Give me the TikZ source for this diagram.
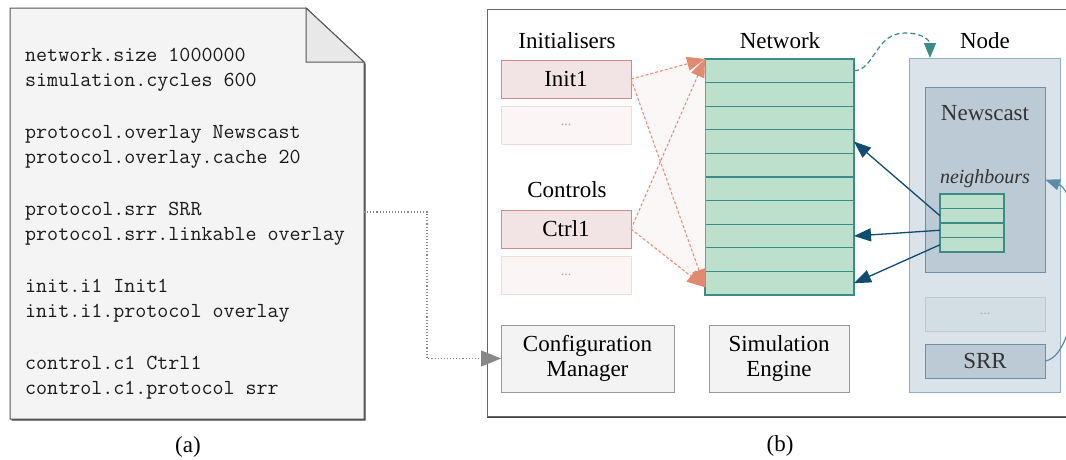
\documentclass[tikz,border=0pt]{standalone}
\usepackage{fontspec}
\setmainfont{Liberation Serif}
\usetikzlibrary{arrows.meta,calc}
\definecolor{docfill}{HTML}{F4F4F4}
\definecolor{docline}{HTML}{555555}
\definecolor{foldfill}{HTML}{E8E8E8}
\definecolor{initfill}{HTML}{F2E4E4}
\definecolor{initline}{HTML}{D08A8A}
\definecolor{dotsfill}{HTML}{FBF5F5}
\definecolor{dotsline}{HTML}{F2DADA}
\definecolor{orangeln}{HTML}{E8907A}
\definecolor{orangetip}{HTML}{E08A72}
\definecolor{tintfill}{HTML}{FCF7F7}
\definecolor{rowfill}{HTML}{BDE0CD}
\definecolor{rowline}{HTML}{3D8B87}
\definecolor{nodefill}{HTML}{DAE3E9}
\definecolor{nodeline}{HTML}{8FB0C4}
\definecolor{newsfill}{HTML}{BCCAD5}
\definecolor{newsline}{HTML}{6D8FAB}
\definecolor{ndotsfill}{HTML}{D3DDE4}
\definecolor{ndotsline}{HTML}{BCC9D3}
\definecolor{bluearr}{HTML}{0F4C70}
\definecolor{srrarr}{HTML}{5B8BA5}
\definecolor{cfgfill}{HTML}{F3F3F3}
\definecolor{cfgline}{HTML}{999999}
\definecolor{conngray}{HTML}{888888}
\definecolor{codetext}{HTML}{1A1A1A}
\tikzset{
  lbl/.style={font=\fontsize{23}{25}\selectfont, inner sep=0pt, anchor=base},
  codeln/.style={font=\ttfamily\fontsize{21.4}{24}\selectfont, text=codetext, inner sep=0pt, anchor=base west},
  nwbox/.style={rectangle, inner sep=0pt, outer sep=0pt, anchor=north west},
  initbox/.style={nwbox, draw=initline, fill=initfill, line width=1pt, font=\fontsize{23}{25}\selectfont},
  dotsbox/.style={nwbox, draw=dotsline, fill=dotsfill, line width=1pt, font=\fontsize{14}{16}\selectfont, text=gray!70},
  netrow/.style={nwbox, draw=rowline, fill=rowfill, line width=1.2pt},
  cfgbox/.style={nwbox, draw=cfgline, fill=cfgfill, line width=1pt, align=center, font=\fontsize{23}{25}\selectfont},
  orarrow/.style={orangeln, line width=1.1pt, dash pattern=on 3pt off 2pt, -{Triangle[length=18pt,width=14pt,fill=orangetip,color=orangetip]}},
  bluearrow/.style={bluearr, line width=1.3pt, -{Triangle[length=17pt,width=13pt]}},
}
\begin{document}
\begin{tikzpicture}[x=1pt,y=-1pt]
\clip (0,0) rectangle (1066,459);
\fill[white] (0,0) rectangle (1066,459);

% ---------- (a) document ----------
\fill[docline!80!black] ($(10,8)+(1.5,1.5)$) -- ($(306,8)+(1.5,1.5)$) -- ($(364,62)+(1.5,1.5)$) -- ($(364,419)+(1.5,1.5)$) -- ($(10,419)+(1.5,1.5)$) -- cycle;
\draw[docline, fill=docfill, line width=1pt] (10,8) -- (306,8) -- (364,62) -- (364,419) -- (10,419) -- cycle;
\draw[docline, fill=foldfill, line width=1pt] (306,8) -- (306,62) -- (364,62) -- cycle;
\coordinate (docR) at (364,212);

\node[codeln] (c1) at (25,61) {network.size 1000000};
\node[codeln] (c2) at (25,86) {simulation.cycles 600};
\node[codeln] (c3) at (25,138) {protocol.overlay Newscast};
\node[codeln] (c4) at (25,163) {protocol.overlay.cache 20};
\node[codeln] (c5) at (25,215) {protocol.srr SRR};
\node[codeln] (c6) at (25,240) {protocol.srr.linkable overlay};
\node[codeln] (c7) at (25,292) {init.i1 Init1};
\node[codeln] (c8) at (25,317) {init.i1.protocol overlay};
\node[codeln] (c9) at (25,369) {control.c1 Ctrl1};
\node[codeln] (c10) at (25,394) {control.c1.protocol srr};

\node[lbl] (capa) at (188,452) {(a)};

% ---------- (b) frame ----------
\draw[black!75, line width=2.5pt] (487,417) -- (1075,417);
\draw[black!60, line width=1pt, fill=white] (487,9) rectangle (1075,416);
\node[lbl] (capb) at (780,451) {(b)};

% labels
\node[lbl] (linit) at (567,48) {Initialisers};
\node[lbl] (lnet) at (780,48) {Network};
\node[lbl] (lnode) at (985,48) {Node};
\node[lbl] (lctrl) at (567,197) {Controls};

% initialisers / controls
\node[initbox, minimum width=130pt, minimum height=38pt] (init1) at (501,60) {Init1};
\node[dotsbox, minimum width=130pt, minimum height=38pt] (idots) at (501,106) {...};
\node[initbox, minimum width=130pt, minimum height=38pt] (ctrl1) at (501,210) {Ctrl1};
\node[dotsbox, minimum width=130pt, minimum height=38pt] (cdots) at (501,256) {...};

% network rows
\foreach \i in {1,...,10}
  \node[netrow, minimum width=149pt, minimum height=23.6pt] (r\i) at (705,{59+(\i-1)*23.6}) {};

% tinted region
\fill[tintfill] (init1.east) -- (r1.north west) -- ([yshift=-4pt]r10.west) -- cycle;
\fill[tintfill] (ctrl1.east) -- (r1.north west) -- ([yshift=-4pt]r10.west) -- cycle;

% orange arrows
\draw[orarrow] (init1.east) -- (r1.north west);
\draw[orarrow] (init1.east) -- ([yshift=-4pt]r10.west);
\draw[orarrow] (ctrl1.east) -- (r1.north west);
\draw[orarrow] (ctrl1.east) -- ([yshift=-4pt]r10.west);

% node
\node[nwbox, draw=nodeline, fill=nodefill, line width=1pt, minimum width=151pt, minimum height=334pt] (nodebox) at (909,58) {};
\node[nwbox, draw=newsline, fill=newsfill, line width=1pt, minimum width=120pt, minimum height=185pt] (news) at (925,87) {};
\node[lbl, text=black!80] (lnews) at (985,120) {Newscast};
\node[lbl, font=\itshape\fontsize{20}{22}\selectfont, text=black!80] (lneigh) at (985,183) {neighbours};
\foreach \i in {1,...,4}
  \node[netrow, minimum width=64pt, minimum height=14.5pt] (n\i) at (940,{194+(\i-1)*14.5}) {};
\node[nwbox, draw=ndotsline, fill=ndotsfill, line width=1pt, minimum width=120pt, minimum height=34pt, font=\fontsize{14}{16}\selectfont, text=gray!70] (ndots) at (925,297) {...};
\node[nwbox, draw=newsline, fill=newsfill, line width=1pt, minimum width=120pt, minimum height=34pt, font=\fontsize{23}{25}\selectfont, text=black!80] (srr) at (925,344) {SRR};

% blue arrows
\draw[bluearrow] (n2.west) -- (r4.east);
\draw[bluearrow] (n3.west) -- (r8.east);
\draw[bluearrow] (n4.west) -- (r10.east);

% SRR arrow
\draw[srrarr, line width=1.2pt, -{Triangle[length=15pt,width=11pt]}] (srr.east) .. controls +(40,-6) and +(40,15) .. (news.east);

% teal dashed arrow
\coordinate (tealtip) at (930,58);
\draw[rowline, line width=1.2pt, dash pattern=on 5pt off 3pt, -{Triangle[length=15pt,width=12pt]}] (r1.east) .. controls (875,70) and (875,33) .. (905,33) .. controls (925,33) and (930,42) .. (tealtip);

% config / simulation
\node[cfgbox, minimum width=173pt, minimum height=67pt] (cfg) at (501,325) {Configuration\\Manager};
\node[cfgbox, minimum width=140pt, minimum height=67pt] (sim) at (709,325) {Simulation\\Engine};

% dotted connector
\draw[conngray, line width=1.1pt, dotted, -{Triangle[length=20pt,width=16pt]}] (docR) -- ++(63,0) |- (cfg.west);
\end{tikzpicture}
\end{document}
